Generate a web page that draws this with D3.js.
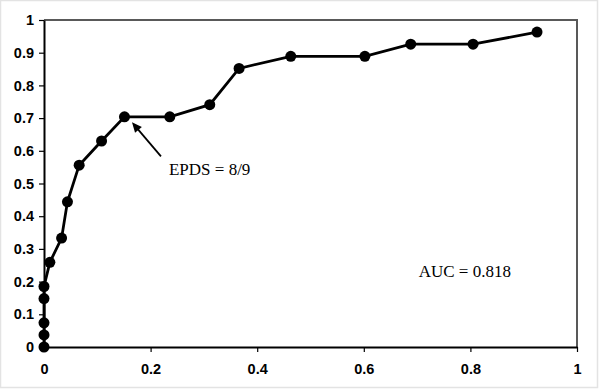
<!DOCTYPE html>
<html><head><meta charset="utf-8">
<script src="https://cdn.jsdelivr.net/npm/d3@7"></script>
<style>body{margin:0;background:#fff}svg{display:block}</style>
</head><body>
<script>
const fpr = [0, 0, 0, 0, 0, 0.011, 0.033, 0.044, 0.066, 0.108, 0.151, 0.236, 0.311, 0.366, 0.463, 0.602, 0.688, 0.805, 0.925];
const tpr = [0, 0.037, 0.074, 0.148, 0.185, 0.259, 0.333, 0.444, 0.556, 0.630, 0.704, 0.704, 0.741, 0.852, 0.889, 0.889, 0.926, 0.926, 0.963];
const xTicks = [0, 0.2, 0.4, 0.6, 0.8, 1];
const yTicks = [0, 0.1, 0.2, 0.3, 0.4, 0.5, 0.6, 0.7, 0.8, 0.9, 1];
const annotation = {label: "EPDS = 8/9", x: 0.151, y: 0.704};
const aucLabel = "AUC = 0.818";

const W = 600, H = 390;
const svg = d3.select("body").append("svg").attr("width", W).attr("height", H);
svg.append("rect").attr("x", 0.5).attr("y", 0.5).attr("width", W - 3).attr("height", H - 3)
  .attr("fill", "#fff").attr("stroke", "#e3e3e3").attr("stroke-width", 1.5);

const x = d3.scaleLinear().domain([0, 1]).range([44, 577]);
const y = d3.scaleLinear().domain([0, 1]).range([347, 20]);

// plot frame (top/right gray)
svg.append("path").attr("d", `M${x(0)},${y(1)}H${x(1)}V${y(0)}`)
  .attr("fill", "none").attr("stroke", "#595959").attr("stroke-width", 2);

const tickFont = "'Liberation Sans', Arial, sans-serif";
const xAxis = svg.append("g").attr("transform", `translate(0,${y(0)})`)
  .call(d3.axisBottom(x).tickValues(xTicks).tickFormat(d3.format("")).tickSize(5).tickSizeOuter(0));
const yAxis = svg.append("g").attr("transform", `translate(${x(0)},0)`)
  .call(d3.axisLeft(y).tickValues(yTicks).tickFormat(d3.format("")).tickSize(5).tickSizeOuter(0));
[xAxis, yAxis].forEach(g => {
  g.attr("font-family", null).attr("font-size", null);
  g.select(".domain").attr("stroke", "#000").attr("stroke-width", 2);
  g.selectAll(".tick line").attr("stroke", "#000").attr("stroke-width", 1.2);
  g.selectAll("text").attr("fill", "#000")
    .style("font-family", tickFont).style("font-weight", "bold").style("font-size", "14.5px");
});
xAxis.selectAll("text").attr("dy", "0").attr("y", 26.5);
yAxis.selectAll("text").attr("x", -10);

const pts = fpr.map((v, i) => [v, tpr[i]]);
svg.append("path").datum(pts)
  .attr("d", d3.line().x(d => x(d[0])).y(d => y(d[1])))
  .attr("fill", "none").attr("stroke", "#000").attr("stroke-width", 2.8);
svg.selectAll("circle.pt").data(pts).join("circle").attr("class", "pt")
  .attr("cx", d => x(d[0])).attr("cy", d => y(d[1])).attr("r", 5.5).attr("fill", "#000");

// annotation arrow
const tipX = x(annotation.x) + 7.5, tipY = y(annotation.y) + 5.5;
const tailX = tipX + 29, tailY = tipY + 34;
const ang = Math.atan2(tipY - tailY, tipX - tailX);
svg.append("line").attr("x1", tailX).attr("y1", tailY)
  .attr("x2", tipX - 6 * Math.cos(ang)).attr("y2", tipY - 6 * Math.sin(ang))
  .attr("stroke", "#000").attr("stroke-width", 1.8);
const hl = 10, hw = 4.5;
const bx = tipX - hl * Math.cos(ang), by = tipY - hl * Math.sin(ang);
svg.append("path").attr("d",
  `M${tipX},${tipY}L${bx + hw * Math.sin(ang)},${by - hw * Math.cos(ang)}L${bx - hw * Math.sin(ang)},${by + hw * Math.cos(ang)}Z`)
  .attr("fill", "#000");

const serif = "'Liberation Serif', 'Times New Roman', serif";
svg.append("text").attr("x", tailX + 8).attr("y", tailY + 18.5).text(annotation.label)
  .style("font-family", serif).style("font-size", "17px").attr("fill", "#000");
svg.append("text").attr("x", x(0.703)).attr("y", y(0.22) + 2).text(aucLabel)
  .style("font-family", serif).style("font-size", "17px").attr("fill", "#000");
</script>
</body></html>
